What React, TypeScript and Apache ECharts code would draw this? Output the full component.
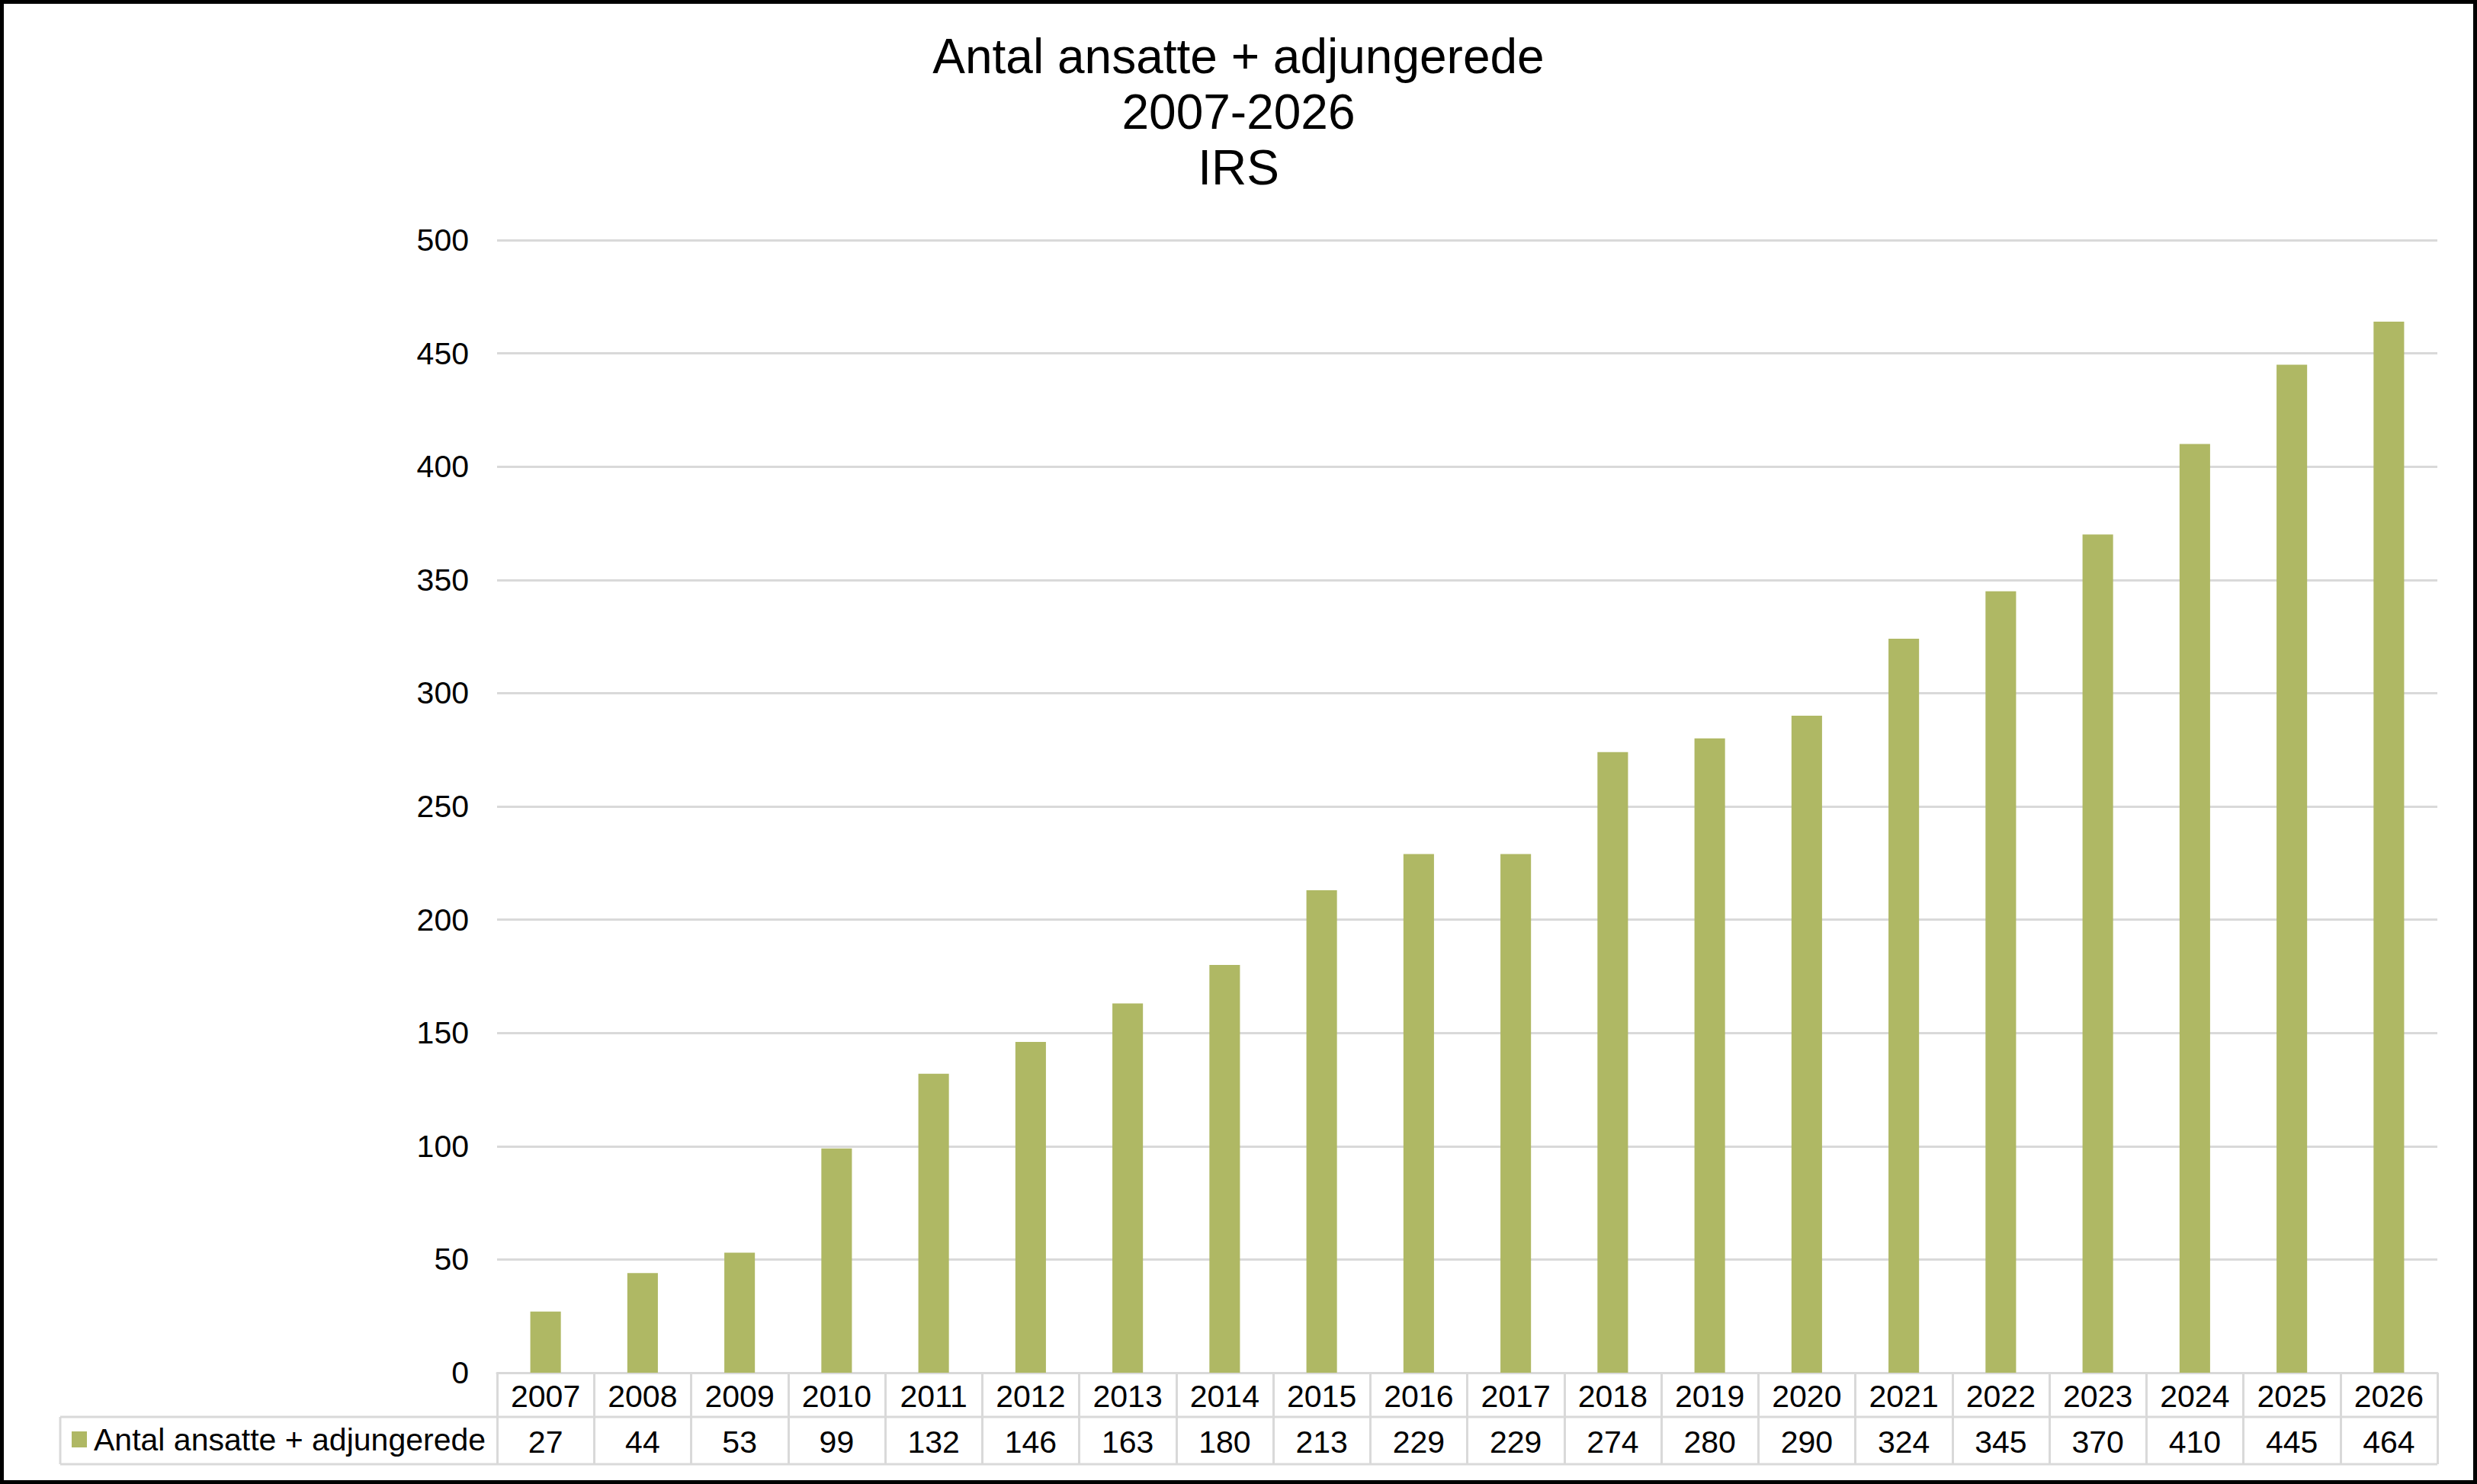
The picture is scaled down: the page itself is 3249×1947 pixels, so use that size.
import React, { useEffect, useRef } from "react";
import * as echarts from "echarts";

// Staff + adjunct counts per year
const years: string[] = [
  "2007", "2008", "2009", "2010", "2011", "2012", "2013", "2014", "2015", "2016",
  "2017", "2018", "2019", "2020", "2021", "2022", "2023", "2024", "2025", "2026",
];
const staff: number[] = [
  27, 44, 53, 99, 132, 146, 163, 180, 213, 229,
  229, 274, 280, 290, 324, 345, 370, 410, 445, 464,
];
const seriesName = "Antal ansatte + adjungerede";
const titleLines: string[] = ["Antal ansatte + adjungerede", "2007-2026", "IRS"];
const yMin = 0;
const yMax = 500;
const yStep = 50;

// Layout
const W = 3249;
const H = 1947;
const GRID_LEFT = 652;
const GRID_RIGHT_X = 3197;
const GRID_TOP = 315;
const AXIS_Y = 1801;
const ROW1_BOTTOM = 1859;
const ROW2_BOTTOM = 1921;
const TABLE_LEFT = 79;

const FONT = "'Liberation Sans', Arial, Helvetica, sans-serif";
const BAR_COLOR = "#afb864";
const TABLE_LINE = "#d9d9d9";
const LABEL_SIZE = 41;

export default function App() {
  const ref = useRef<HTMLDivElement>(null);

  useEffect(() => {
    if (!ref.current) return;
    const chart = echarts.init(ref.current, undefined, { renderer: "svg" });
    const lineStyle = { stroke: TABLE_LINE, lineWidth: 3 };

    chart.setOption({
      animation: false,
      backgroundColor: "#ffffff",
      textStyle: { fontFamily: FONT },
      grid: {
        left: GRID_LEFT,
        right: W - GRID_RIGHT_X,
        top: GRID_TOP,
        bottom: H - AXIS_Y,
        containLabel: false,
      },
      legend: {
        data: [seriesName],
        left: 94,
        top: 1868,
        padding: 0,
        icon: "rect",
        itemWidth: 20,
        itemHeight: 21,
        textStyle: { fontSize: LABEL_SIZE, color: "#000", fontFamily: FONT, padding: [0, 0, 0, 4] },
        selectedMode: false,
      },
      xAxis: [
        {
          type: "category",
          data: years,
          position: "bottom",
          axisLine: { show: true, lineStyle: { color: TABLE_LINE, width: 3 } },
          axisTick: {
            show: true,
            alignWithLabel: false,
            interval: 0,
            length: ROW2_BOTTOM - AXIS_Y,
            lineStyle: { color: TABLE_LINE, width: 3 },
          },
          axisLabel: {
            interval: 0,
            margin: 10,
            fontSize: LABEL_SIZE,
            color: "#000",
            fontFamily: FONT,
          },
          splitLine: { show: false },
        },
        {
          type: "category",
          data: staff.map(String),
          position: "bottom",
          offset: ROW1_BOTTOM - AXIS_Y,
          axisLine: { show: false },
          axisTick: { show: false },
          axisLabel: {
            interval: 0,
            margin: 12,
            fontSize: LABEL_SIZE,
            color: "#000",
            fontFamily: FONT,
          },
          splitLine: { show: false },
        },
      ],
      yAxis: {
        type: "value",
        min: yMin,
        max: yMax,
        interval: yStep,
        axisLine: { show: false },
        axisTick: { show: false },
        axisLabel: { fontSize: LABEL_SIZE, color: "#000", margin: 37, fontFamily: FONT },
        splitLine: { show: true, lineStyle: { color: TABLE_LINE, width: 3 } },
      },
      series: [
        {
          name: seriesName,
          type: "bar",
          xAxisIndex: 0,
          data: staff,
          barWidth: "31.5%",
          itemStyle: { color: BAR_COLOR },
        },
      ],
      graphic: [
        {
          type: "text",
          x: W / 2,
          y: 37,
          style: {
            text: titleLines.join("\n"),
            fontSize: 64,
            lineHeight: 73,
            fontFamily: FONT,
            fill: "#000",
            align: "center",
            verticalAlign: "top",
          },
        },
        // data table: row divider, bottom edge, left edge of the legend cell
        { type: "line", shape: { x1: TABLE_LEFT, y1: ROW1_BOTTOM, x2: GRID_RIGHT_X, y2: ROW1_BOTTOM }, style: lineStyle },
        { type: "line", shape: { x1: TABLE_LEFT, y1: ROW2_BOTTOM, x2: GRID_RIGHT_X, y2: ROW2_BOTTOM }, style: lineStyle },
        { type: "line", shape: { x1: TABLE_LEFT, y1: ROW1_BOTTOM, x2: TABLE_LEFT, y2: ROW2_BOTTOM }, style: lineStyle },
        // outer frame
        {
          type: "rect",
          z: 100,
          shape: { x: 0, y: 0, width: W, height: H },
          style: { fill: "transparent", stroke: "#000", lineWidth: 10 },
        },
      ],
    });

    return () => chart.dispose();
  }, []);

  return (
    <div
      ref={ref}
      style={{ position: "fixed", left: 0, top: 0, width: W, height: H, background: "#fff" }}
    />
  );
}
